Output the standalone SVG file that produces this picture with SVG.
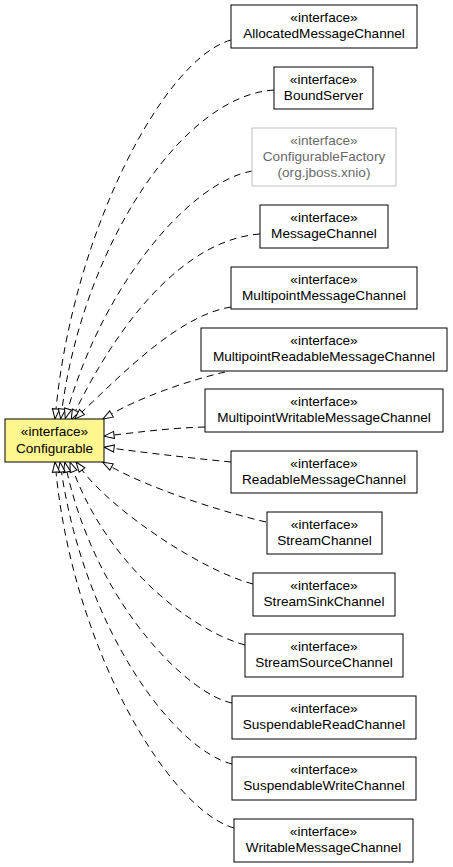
<svg xmlns="http://www.w3.org/2000/svg" width="453" height="867" viewBox="0 0 453 867">
<style>
.box{fill:#ffffff;stroke:#000000;stroke-width:1}
.main{fill:#fff68f;stroke:#000000;stroke-width:1}
.faded{fill:#ffffff;stroke:#c0c0c0;stroke-width:1}
text{font-family:"Liberation Sans",Arial,sans-serif;font-size:13.6px;text-anchor:middle;fill:#000000}
.ftext{fill:#6a6a6a}
.edge{fill:none;stroke:#000000;stroke-width:1;stroke-dasharray:7,5}
</style>
<defs>
<marker id="tri" markerUnits="userSpaceOnUse" markerWidth="14" markerHeight="10" viewBox="-1 -5 13 10" refX="0" refY="0" orient="auto">
<path d="M0,-3.6 L10,0 L0,3.6 Z" fill="#ffffff" stroke="#000000" stroke-width="1"/>
</marker>
</defs>
<g id="connectors">
<path class="edge" marker-end="url(#tri)" d="M231,40 C165,58 74,229 56,409"/>
<path class="edge" marker-end="url(#tri)" d="M274,90 C185,95 85,240 62,409"/>
<path class="edge" marker-end="url(#tri)" d="M252,171 C190,182 104,284 68,409"/>
<path class="edge" marker-end="url(#tri)" d="M260,234 C180,240 115,330 75.6,410.7"/>
<path class="edge" marker-end="url(#tri)" d="M231,307 C180,315 125,371 82,412"/>
<path class="edge" marker-end="url(#tri)" d="M225,372 C190,380 141,397 111.5,414"/>
<path class="edge" marker-end="url(#tri)" d="M205,427 C170,428 140,432 114,435"/>
<path class="edge" marker-end="url(#tri)" d="M231,462 C190,458 140,452 114,448.5"/>
<path class="edge" marker-end="url(#tri)" d="M266,522 C215,510 150,488 111.5,467"/>
<path class="edge" marker-end="url(#tri)" d="M253,584 C200,570 112,510 82,470"/>
<path class="edge" marker-end="url(#tri)" d="M245,645 C190,630 108.5,565 73.5,471.4"/>
<path class="edge" marker-end="url(#tri)" d="M232,703 C190,695 98,608 67,472"/>
<path class="edge" marker-end="url(#tri)" d="M232,764 C175,750 85.5,632 61.5,472"/>
<path class="edge" marker-end="url(#tri)" d="M234,828 C170,810 74,652 56,472"/>
</g>
<g id="Configurable">
<rect class="main" x="5" y="419" width="99" height="43"/>
<text x="54.5" y="436">«interface»</text>
<text x="54.5" y="453">Configurable</text>
</g>
<g id="AllocatedMessageChannel">
<rect class="box" x="231" y="5" width="186" height="43"/>
<text x="324" y="22">«interface»</text>
<text x="324" y="38">AllocatedMessageChannel</text>
</g>
<g id="BoundServer">
<rect class="box" x="274" y="67" width="99" height="42"/>
<text x="323.5" y="84">«interface»</text>
<text x="323.5" y="100">BoundServer</text>
</g>
<g id="ConfigurableFactory">
<rect class="faded" x="252" y="128" width="144" height="58"/>
<text class="ftext" x="324" y="145">«interface»</text>
<text class="ftext" x="324" y="161">ConfigurableFactory</text>
<text class="ftext" x="324" y="177">(org.jboss.xnio)</text>
</g>
<g id="MessageChannel">
<rect class="box" x="260" y="205" width="128" height="43"/>
<text x="324" y="222">«interface»</text>
<text x="324" y="238">MessageChannel</text>
</g>
<g id="MultipointMessageChannel">
<rect class="box" x="231" y="267" width="186" height="42"/>
<text x="324" y="284">«interface»</text>
<text x="324" y="300">MultipointMessageChannel</text>
</g>
<g id="MultipointReadableMessageChannel">
<rect class="box" x="201" y="328" width="246" height="43"/>
<text x="324" y="345">«interface»</text>
<text x="324" y="361">MultipointReadableMessageChannel</text>
</g>
<g id="MultipointWritableMessageChannel">
<rect class="box" x="205" y="389" width="238" height="43"/>
<text x="324" y="406">«interface»</text>
<text x="324" y="422">MultipointWritableMessageChannel</text>
</g>
<g id="ReadableMessageChannel">
<rect class="box" x="231" y="451" width="186" height="42"/>
<text x="324" y="468">«interface»</text>
<text x="324" y="484">ReadableMessageChannel</text>
</g>
<g id="StreamChannel">
<rect class="box" x="267" y="512" width="115" height="42"/>
<text x="324.5" y="529">«interface»</text>
<text x="324.5" y="545">StreamChannel</text>
</g>
<g id="StreamSinkChannel">
<rect class="box" x="253" y="573" width="142" height="43"/>
<text x="324" y="590">«interface»</text>
<text x="324" y="606">StreamSinkChannel</text>
</g>
<g id="StreamSourceChannel">
<rect class="box" x="245" y="634" width="158" height="43"/>
<text x="324" y="651">«interface»</text>
<text x="324" y="667">StreamSourceChannel</text>
</g>
<g id="SuspendableReadChannel">
<rect class="box" x="232" y="696" width="184" height="43"/>
<text x="324" y="713">«interface»</text>
<text x="324" y="729">SuspendableReadChannel</text>
</g>
<g id="SuspendableWriteChannel">
<rect class="box" x="232" y="757" width="184" height="43"/>
<text x="324" y="774">«interface»</text>
<text x="324" y="790">SuspendableWriteChannel</text>
</g>
<g id="WritableMessageChannel">
<rect class="box" x="234" y="819" width="179" height="43"/>
<text x="323.5" y="836">«interface»</text>
<text x="323.5" y="852">WritableMessageChannel</text>
</g>
</svg>
